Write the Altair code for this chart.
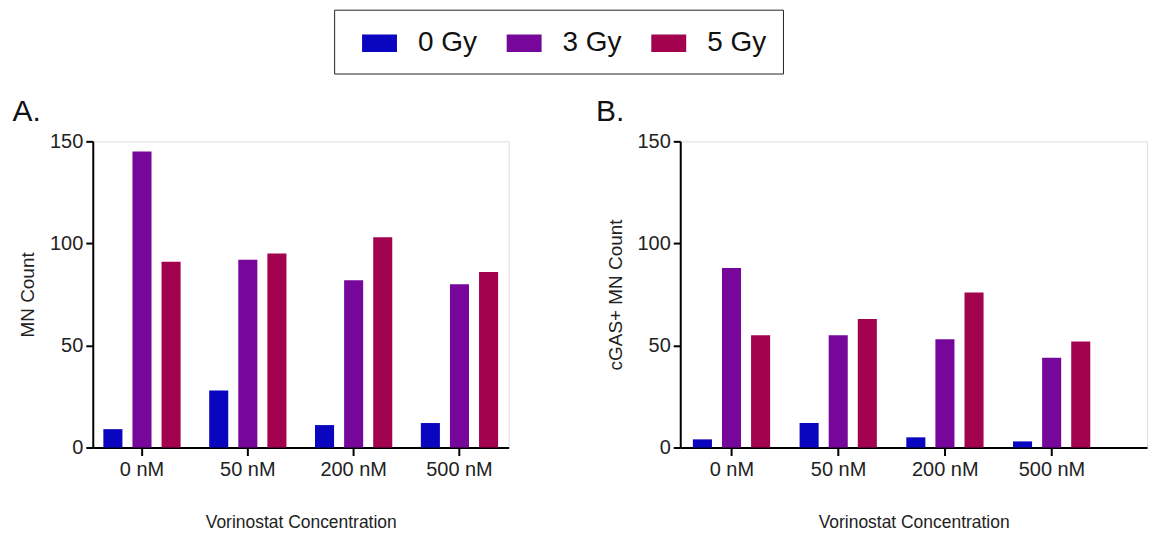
import altair as alt
import pandas as pd

concentrations = ["0 nM", "50 nM", "200 nM", "500 nM"]
doses = ["0 Gy", "3 Gy", "5 Gy"]
colors = ["#0A06BF", "#77069A", "#A2024E"]

# values per dose, in concentration order
mn_0gy = [9, 28, 11, 12]
mn_3gy = [145, 92, 82, 80]
mn_5gy = [91, 95, 103, 86]

cgas_0gy = [4, 12, 5, 3]
cgas_3gy = [88, 55, 53, 44]
cgas_5gy = [55, 63, 76, 52]

y_ticks = [0, 50, 100, 150]


def long_table(series):
    rows = []
    for dose, vals in zip(doses, series):
        for conc, v in zip(concentrations, vals):
            rows.append({"Concentration": conc, "Dose": dose, "Count": v})
    return pd.DataFrame(rows)


df_a = long_table([mn_0gy, mn_3gy, mn_5gy])
df_b = long_table([cgas_0gy, cgas_3gy, cgas_5gy])

FONT = "Liberation Sans"


def panel(df, ytitle, letter, width, xscale, dx):
    return (
        alt.Chart(df)
        .mark_bar()
        .encode(
            x=alt.X(
                "Concentration:N",
                sort=concentrations,
                scale=xscale,
                axis=alt.Axis(
                    title="Vorinostat Concentration",
                    labelAngle=0,
                    labelFontSize=20,
                    titleFontSize=17.5,
                    titleFontWeight="normal",
                    titlePadding=34,
                    labelPadding=4,
                    tickSize=8,
                ),
            ),
            xOffset=alt.XOffset(
                "Dose:N",
                sort=doses,
                scale=alt.Scale(paddingInner=0.345, paddingOuter=0),
            ),
            y=alt.Y(
                "Count:Q",
                scale=alt.Scale(domain=[0, 150], nice=False),
                axis=alt.Axis(
                    title=ytitle,
                    values=y_ticks,
                    labelFontSize=20,
                    titleFontSize=19,
                    titleFontWeight="normal",
                    titlePadding=12,
                    labelPadding=3,
                    tickSize=7,
                ),
            ),
            color=alt.Color(
                "Dose:N",
                sort=doses,
                scale=alt.Scale(domain=doses, range=colors),
                legend=alt.Legend(
                    title=None,
                    orient="none",
                    legendX=242,
                    legendY=-132,
                    direction="horizontal",
                    columns=3,
                    symbolType="M-1,-0.5H1V0.5H-1Z",
                    symbolSize=1225,
                    symbolStrokeWidth=0,
                    symbolOpacity=1,
                    symbolOffset=12,
                    labelFontSize=28,
                    labelOffset=21,
                    columnPadding=17,
                    padding=16,
                    strokeColor="#222222",
                    cornerRadius=0,
                    labelColor="#111111",
                ),
            ),
        )
        .properties(
            width=width,
            height=307,
            title=alt.TitleParams(
                letter,
                anchor="start",
                fontSize=30,
                fontWeight="normal",
                offset=4,
                dx=dx,
                color="#111111",
            ),
        )
    )


chart_a = panel(
    df_a,
    "MN Count",
    "A.",
    417,
    alt.Scale(paddingInner=0.27, paddingOuter=0.1),
    -6,
)
chart_b = panel(
    df_b,
    "cGAS+ MN Count",
    "B.",
    468,
    alt.Scale(paddingInner=0.27, paddingOuter=0.322, align=0.184),
    -10,
)

chart = (
    alt.hconcat(chart_a, chart_b, spacing=86)
    .resolve_scale(color="shared")
    .properties(padding={"left": 4, "top": 0, "right": 0, "bottom": 0})
    .configure_view(strokeOpacity=0, strokeWidth=0)
    .configure(font=FONT)
    .configure_axis(
        grid=False,
        domainColor="#000000",
        domainWidth=2,
        tickColor="#000000",
        tickWidth=2,
        labelColor="#222222",
        titleColor="#222222",
        labelFont=FONT,
        titleFont=FONT,
    )
    .configure_legend(labelFont=FONT)
    .configure_title(font=FONT)
)

chart.save("out.html", embed_options={"renderer": "svg", "actions": False})
